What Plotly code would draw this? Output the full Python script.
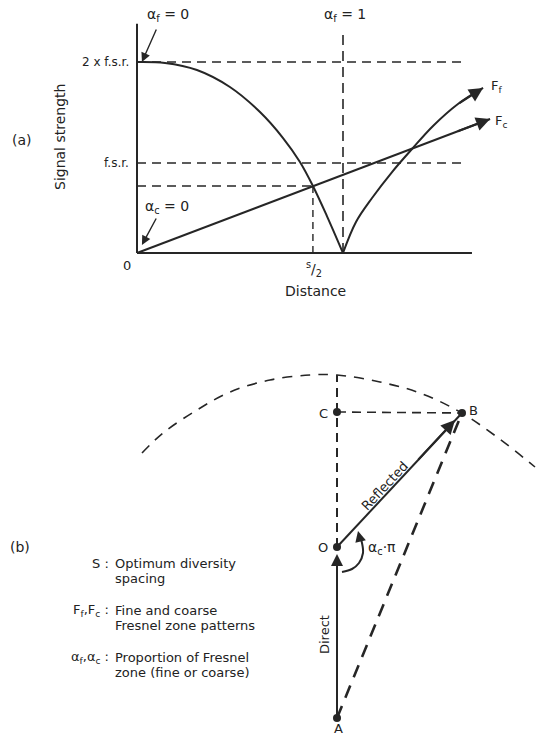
import plotly.graph_objects as go

W, H = 537, 737
INK = "#262626"
FONT = "DejaVu Sans"

# ---- (a) signal strength vs distance ----
# distance unit: alpha_f = 1 ; strength unit: f.s.r. (2 = 2 x f.s.r.)
fine_fall_x = [0, 0.136, 0.291, 0.451, 0.597, 0.709, 0.791, 0.854, 0.922, 1.0]
fine_fall_y = [2.0, 1.990, 1.916, 1.738, 1.476, 1.204, 0.953, 0.702, 0.387, 0.0]
fine_rise_x = [1.0, 1.063, 1.141, 1.238, 1.335, 1.437, 1.558, 1.680]
fine_rise_y = [0.0, 0.325, 0.576, 0.848, 1.089, 1.330, 1.560, 1.728]
coarse_x = [0, 1.714]
coarse_y = [0, 1.403]
level_2fsr = 2.0
level_fsr = 0.942
s_half = 0.854
s_half_level = 0.702
alpha_f1 = 1.0
dist_end = 1.626
dash_end = 1.587
strength_top = 2.40
alpha_f1_top = 2.335

# ---- (b) phasor construction, origin at O ----
pt_names = ["O", "A", "C", "B"]
pt_x = [0, 0, 0, 125]
pt_y = [0, -171, 135, 134]
arc_x = [-195, -174, -140, -107, -67, -27, 0, 43, 83, 123, 160, 198]
arc_y = [94, 114, 137, 155, 167, 172, 172, 165, 154, 135, 110, 80]
angle_x = [5, 15, 22, 26, 25, 23]
angle_y = [-25, -22, -16, -6, 4, 11]

# pixel mapping of the two panels (origin pixel, pixels per unit)
A_OX, A_OY, A_SX, A_SY = 137, 253, 206, 95.5
B_OX, B_OY = 337, 547

fig = go.Figure()


def line(x, y, ax="x", width=2, dash=None, shape="linear"):
    fig.add_trace(go.Scatter(
        x=x, y=y, mode="lines", xaxis=ax, yaxis=ax.replace("x", "y"),
        line=dict(color=INK, width=width, dash=dash, shape=shape),
        hoverinfo="skip", showlegend=False))


def arrow(x, y, tx, ty, ax="x", width=1.8, size=1.3, head=2):
    fig.add_annotation(
        x=x, y=y, ax=tx, ay=ty, xref=ax, yref=ax.replace("x", "y"),
        axref=ax, ayref=ax.replace("x", "y"), text="", showarrow=True,
        arrowhead=head, arrowsize=size, arrowwidth=width, arrowcolor=INK,
        standoff=0, startstandoff=0)


def label(text, px, py, size=13, xanchor="center", angle=0):
    fig.add_annotation(
        x=px / W, y=1 - py / H, xref="paper", yref="paper", text=text,
        showarrow=False, xanchor=xanchor, yanchor="middle", textangle=angle,
        font=dict(family=FONT, size=size, color="#222222"))


DASH = "9px,6px"

# ---- panel (a) ----
line([0, 0], [0, strength_top], width=2)
line([0, dist_end], [0, 0], width=2)
line([0, dash_end], [level_2fsr, level_2fsr], width=1.4, dash=DASH)
line([0, dash_end], [level_fsr, level_fsr], width=1.4, dash=DASH)
line([0, s_half], [s_half_level, s_half_level], width=1.4, dash=DASH)
line([s_half, s_half], [0, s_half_level], width=1.4, dash="7px,5px")
line([alpha_f1, alpha_f1], [0, alpha_f1_top], width=1.6, dash="10px,6px")
line(fine_fall_x, fine_fall_y, width=2, shape="spline")
line(fine_rise_x, fine_rise_y, width=2, shape="spline")
line(coarse_x, coarse_y, width=2)

arrow(fine_rise_x[-1], fine_rise_y[-1], fine_rise_x[-2], fine_rise_y[-2], width=2, size=1.4)
arrow(coarse_x[-1], coarse_y[-1], 1.55, 1.403 * 1.55 / 1.714, width=2, size=1.4)
arrow(0.024, 2.0, 0.097, 2.356, width=1.4, size=1.3)
arrow(0.024, 0.084, 0.097, 0.377, width=1.4, size=1.3)

label("(a)", 22, 140, size=14)
label("Signal strength", 60, 137, size=14, angle=-90)
label("2 x f.s.r.", 131, 62, size=12, xanchor="right")
label("f.s.r.", 131, 163, size=12, xanchor="right")
label("0", 127, 265, size=13)
label("α<sub>f</sub> = 0", 168, 15, size=14)
label("α<sub>c</sub> = 0", 167, 207, size=14)
label("α<sub>f</sub> = 1", 345, 15, size=14)
label("F<sub>f</sub>", 489, 86, size=13, xanchor="left")
label("F<sub>c</sub>", 493, 121, size=13, xanchor="left")
label("<sup>s</sup>/<sub>2</sub>", 314, 269, size=14)
label("Distance", 315, 291, size=14)

# ---- panel (b) ----
line(arc_x, arc_y, ax="x2", width=1.6, dash="10px,8px", shape="spline")
line([0, 0], [pt_y[0], arc_y[6]], ax="x2", width=2, dash="9px,6px")
line([pt_x[2], pt_x[3]], [pt_y[2], pt_y[3]], ax="x2", width=1.6, dash="9px,6px")
line([pt_x[1], pt_x[3]], [pt_y[1], pt_y[3]], ax="x2", width=2.6, dash="13px,9px")
line([pt_x[1], pt_x[0]], [pt_y[1], pt_y[0] - 12], ax="x2", width=2)
line([pt_x[0], pt_x[3]], [pt_y[0], pt_y[3]], ax="x2", width=2)
line(angle_x, angle_y, ax="x2", width=2, shape="spline")

arrow(0, -7, 0, -40, ax="x2", width=2, size=1.2)
arrow(118, 127, 80, 86, ax="x2", width=2, size=1.4)
arrow(21, 16, 23, 8, ax="x2", width=1.8, size=1.2)

fig.add_trace(go.Scatter(
    x=pt_x, y=pt_y, mode="markers", xaxis="x2", yaxis="y2",
    marker=dict(color=INK, size=8), hoverinfo="skip", showlegend=False))

label("(b)", 20, 547, size=14)
label("O", 323, 547, size=13)
label("A", 338, 728, size=13)
label("C", 323, 413, size=13)
label("B", 473, 410, size=13)
label("Reflected", 384, 486, size=13, angle=-47)
label("Direct", 324, 635, size=13, angle=-90)
label("α<sub>c</sub>·π", 366, 548, size=14, xanchor="left")

legend_keys = ["S :", "F<sub>f</sub>,F<sub>c</sub> :", "α<sub>f</sub>,α<sub>c</sub> :"]
legend_text = [["Optimum diversity", "spacing"],
               ["Fine and coarse", "Fresnel zone patterns"],
               ["Proportion of Fresnel", "zone (fine or coarse)"]]
legend_rows = [563, 610, 657]
for key, rows, py in zip(legend_keys, legend_text, legend_rows):
    label(key, 111, py, size=13, xanchor="right")
    label(rows[0], 113, py, size=13, xanchor="left")
    label(rows[1], 113, py + 15, size=13, xanchor="left")

hidden = dict(visible=False, fixedrange=True)
fig.update_layout(
    width=W, height=H,
    margin=dict(l=0, r=0, t=0, b=0),
    paper_bgcolor="white",
    plot_bgcolor="rgba(0,0,0,0)",
    xaxis=dict(domain=[0, 1], range=[-A_OX / A_SX, (W - A_OX) / A_SX], **hidden),
    yaxis=dict(domain=[0, 1], range=[(A_OY - H) / A_SY, A_OY / A_SY], **hidden),
    xaxis2=dict(domain=[0, 1], range=[-B_OX, W - B_OX], anchor="y2", **hidden),
    yaxis2=dict(domain=[0, 1], range=[B_OY - H, B_OY], anchor="x2", **hidden),
)

# the page's default body margin would push the figure 8px off the window
fig.write_html("out.html",
               config={"displayModeBar": False},
               post_script="document.body.style.margin='0';"
                           "document.body.style.overflow='hidden';")
